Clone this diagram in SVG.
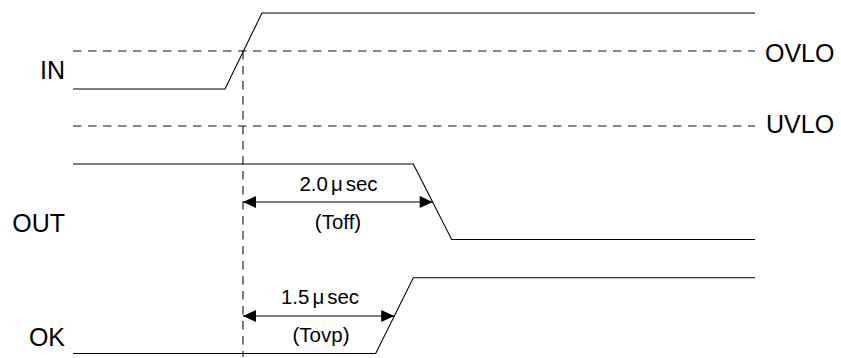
<svg xmlns="http://www.w3.org/2000/svg" width="841" height="358" viewBox="0 0 841 358">
<style>
text{font-family:"Liberation Sans",Arial,sans-serif;fill:#000}
.lbl{font-size:25px}
.sm{font-size:20.5px;text-anchor:middle}
.sig{fill:none;stroke:#000;stroke-width:1.1}
.dash{fill:none;stroke:#111;stroke-width:1.1;stroke-dasharray:8.5 6.5}
.dim{fill:none;stroke:#000;stroke-width:1.1}
</style>
<defs>
<marker id="ah" markerUnits="userSpaceOnUse" markerWidth="14" markerHeight="12" viewBox="0 0 13 12" refX="13" refY="6" orient="auto-start-reverse">
<path d="M0,0 L13,6 L0,12 Z" fill="#000"/>
</marker>
</defs>
<rect width="841" height="358" fill="#fff"/>
<g id="thresholds">
<path class="dash" d="M73,51 H755"/>
<path class="dash" d="M73,126 H755"/>
<text class="lbl" x="765" y="62">OVLO</text>
<text class="lbl" x="766" y="133">UVLO</text>
</g>
<g id="sig-in">
<path class="sig" d="M73,89 H225 L262,13 H755"/>
<text class="lbl" x="65" y="79" text-anchor="end">IN</text>
</g>
<g id="sig-out">
<path class="sig" d="M73,164 H413.3 L451.7,239.5 H755"/>
<text class="lbl" x="65" y="232" text-anchor="end">OUT</text>
</g>
<g id="sig-ok">
<path class="sig" d="M73,353.5 H375.7 L413.3,277.7 H755"/>
<text class="lbl" x="65" y="346" text-anchor="end">OK</text>
</g>
<g id="connectors">
<path class="dash" d="M243,51 V357"/>
<path class="dim" d="M243,202 H432.7" marker-start="url(#ah)" marker-end="url(#ah)"/>
<path class="dim" d="M243,316 H394.2" marker-start="url(#ah)" marker-end="url(#ah)"/>
</g>
<g id="toff-label">
<text class="sm" x="338.5" y="191">2.0<tspan dx="3">μ</tspan><tspan dx="3">sec</tspan></text>
<text class="sm" x="338" y="229">(Toff)</text>
</g>
<g id="tovp-label">
<text class="sm" x="320" y="304">1.5<tspan dx="3">μ</tspan><tspan dx="3">sec</tspan></text>
<text class="sm" x="321" y="342">(Tovp)</text>
</g>
</svg>
